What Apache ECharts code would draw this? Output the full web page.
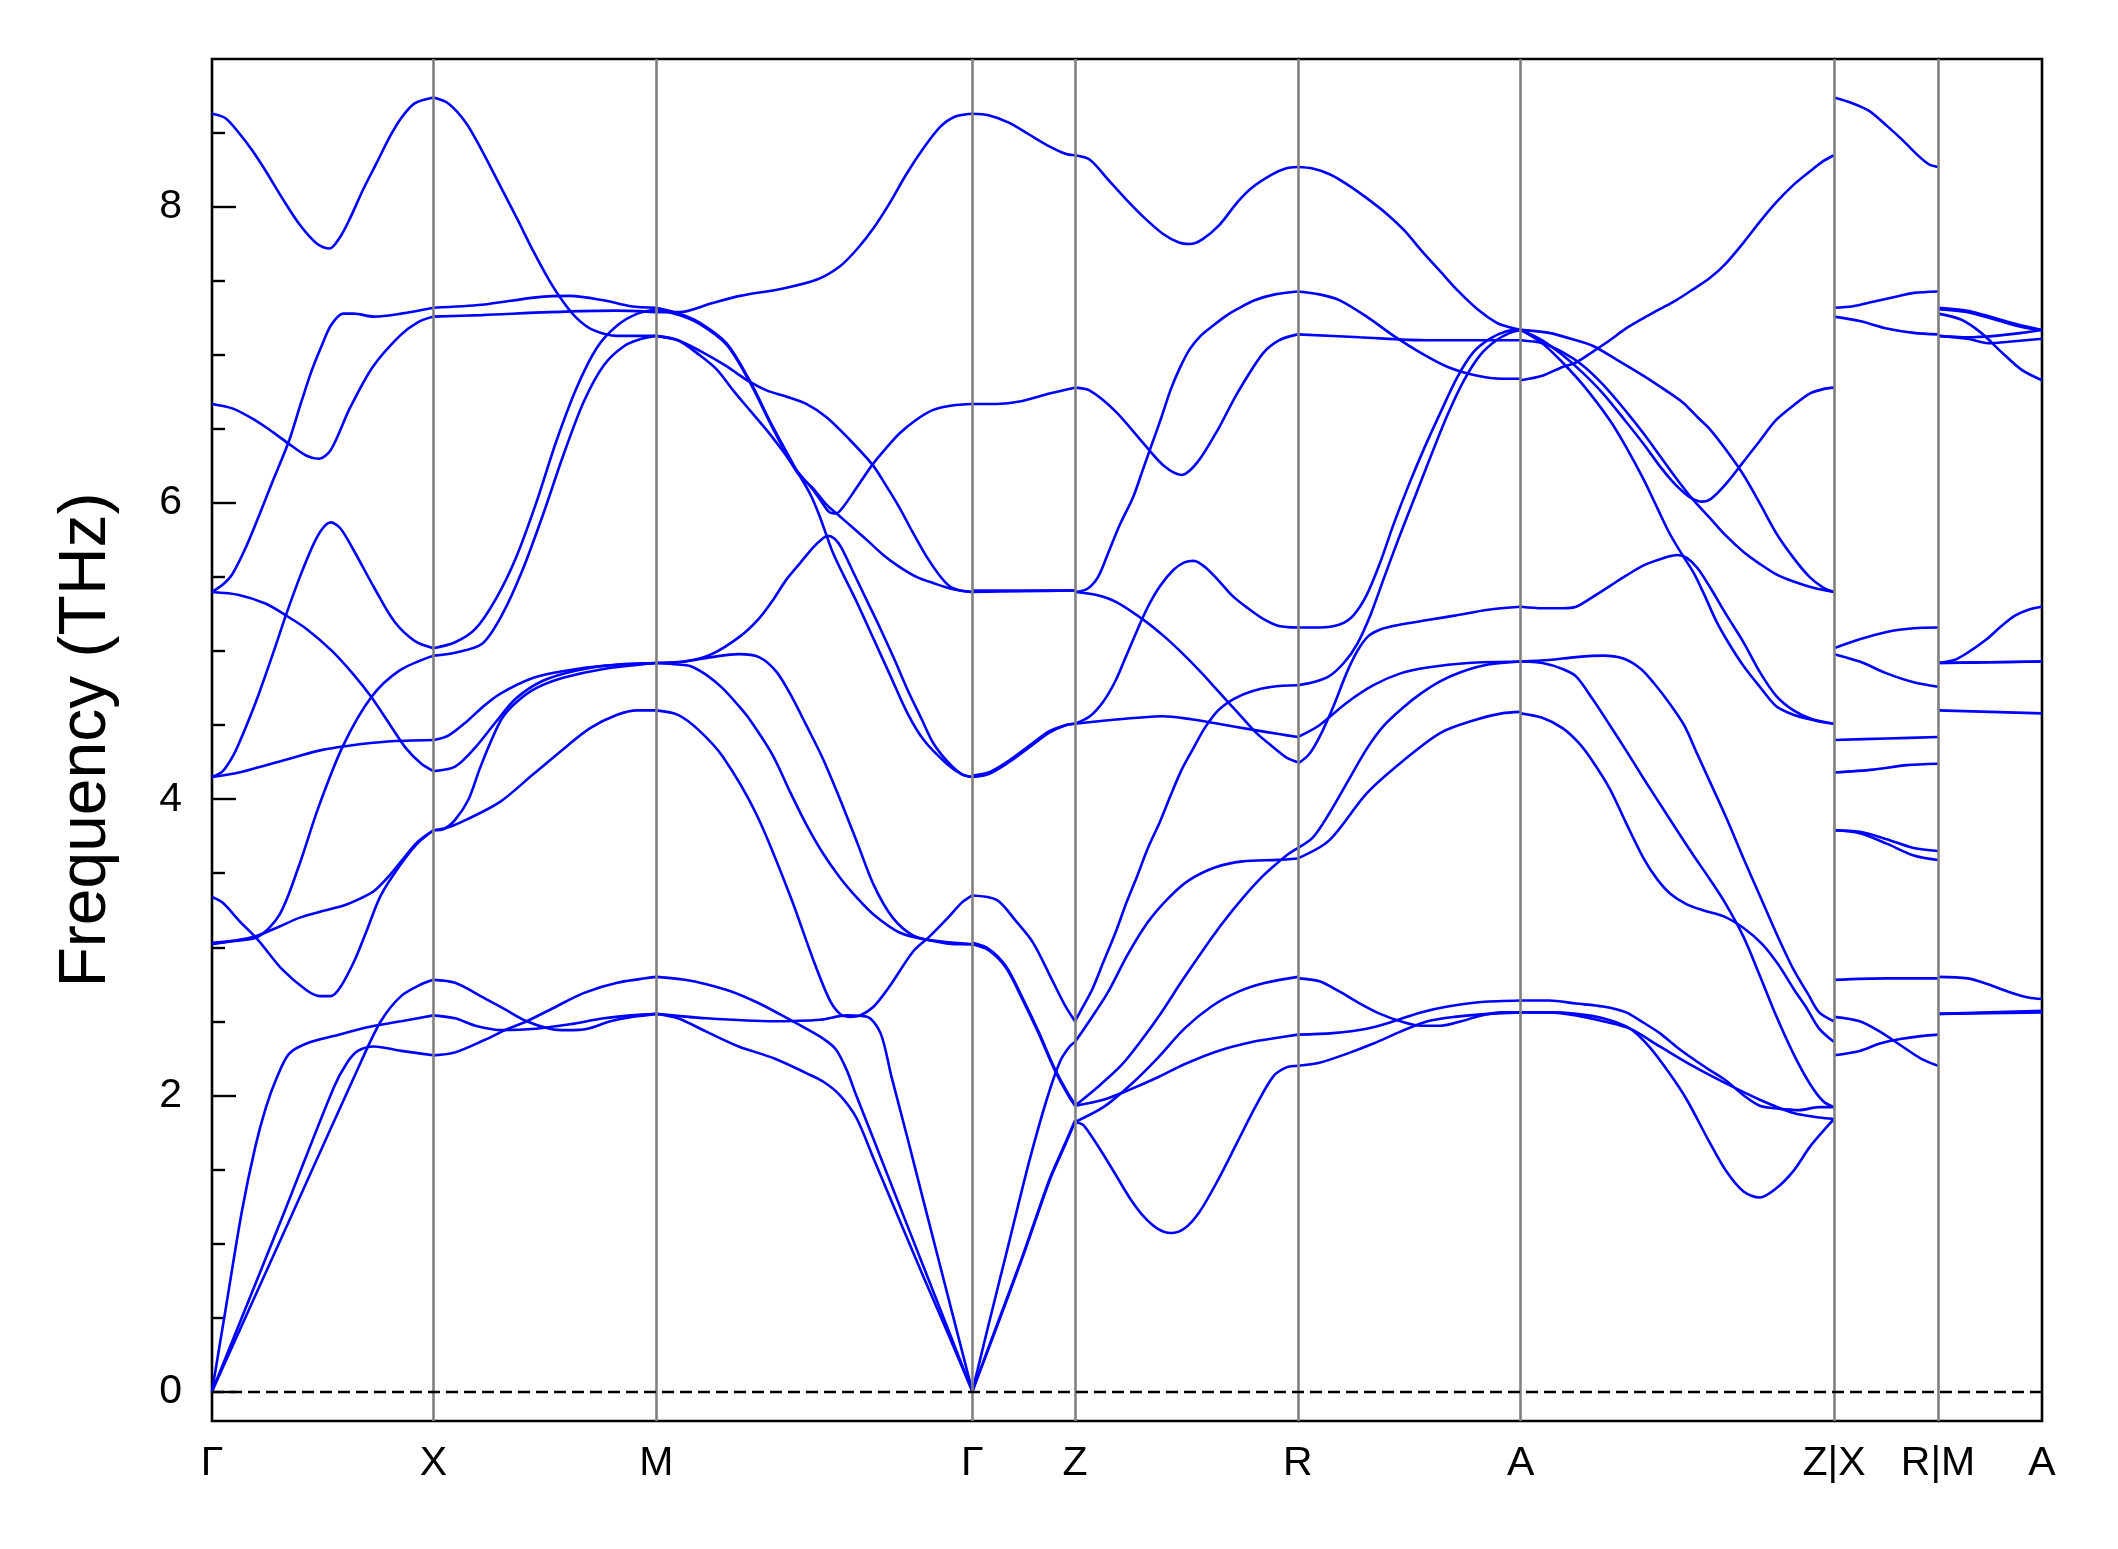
<!DOCTYPE html>
<html>
<head>
<meta charset="utf-8">
<script src="https://cdn.jsdelivr.net/npm/echarts@6/dist/echarts.min.js"></script>
<style>
html,body{margin:0;padding:0;background:#fff;}
#chart{width:2118px;height:1549px;}
</style>
</head>
<body>
<div id="chart"></div>
<script>
// high-symmetry path (distance along path, arbitrary units) and labels
const kTicks = [0, 164, 329, 563, 639, 804, 969, 1201, 1278, 1355];
const kLabels = ['Γ', 'X', 'M', 'Γ', 'Z', 'R', 'A', 'Z|X', 'R|M', 'A'];
const freqMajor = [0, 2, 4, 6, 8];
const freqMinor = [0.5, 1, 1.5, 2.5, 3, 3.5, 4.5, 5, 5.5, 6.5, 7, 7.5, 8.5];

// phonon bands per path segment: [distance, frequency THz]
const bandsGX = [
 [[0,0],[50,1.13],[90,2.05],[100,2.22],[108,2.3],[120,2.33],[140,2.3],[164,2.27]],
 [[0,0],[10,0.55],[22,1.21],[32,1.65],[40,1.92],[48,2.12],[57,2.28],[70,2.35],[90,2.4],[115,2.46],[140,2.5],[164,2.54]],
 [[0,0],[60,1.21],[110,2.22],[125,2.5],[140,2.67],[155,2.75],[164,2.78]],
 [[0,3.34],[8,3.3],[20,3.18],[34,3.05],[52,2.85],[70,2.71],[80,2.67],[88,2.67],[95,2.73],[105,2.9],[114,3.1],[125,3.35],[139,3.55],[152,3.7],[164,3.79]],
 [[0,3.02],[15,3.04],[34,3.07],[50,3.22],[64,3.54],[79,3.95],[97,4.36],[118,4.69],[139,4.87],[164,4.97]],
 [[0,3.03],[20,3.05],[34,3.08],[50,3.14],[65,3.2],[80,3.24],[97,3.28],[110,3.33],[120,3.38],[130,3.47],[140,3.58],[152,3.71],[164,3.79]],
 [[0,4.15],[20,4.18],[40,4.23],[60,4.28],[80,4.33],[100,4.36],[130,4.39],[164,4.40]],
 [[0,4.15],[8,4.19],[16,4.3],[22,4.42],[33,4.67],[45,4.98],[55,5.25],[65,5.5],[75,5.72],[82,5.83],[88,5.87],[95,5.83],[105,5.68],[120,5.43],[135,5.2],[150,5.07],[164,5.02]],
 [[0,5.40],[20,5.38],[40,5.32],[55,5.24],[70,5.15],[89,5.0],[105,4.84],[118,4.69],[132,4.5],[144,4.34],[155,4.24],[164,4.19]],
 [[0,5.40],[8,5.45],[15,5.52],[25,5.7],[35,5.92],[45,6.15],[57,6.42],[66,6.68],[74,6.9],[82,7.08],[88,7.2],[97,7.28],[105,7.28],[120,7.26],[140,7.28],[164,7.32]],
 [[0,6.67],[15,6.64],[30,6.57],[45,6.48],[57,6.4],[70,6.32],[79,6.3],[88,6.36],[102,6.64],[119,6.92],[139,7.13],[152,7.22],[164,7.26]],
 [[0,8.63],[10,8.6],[20,8.5],[30,8.38],[40,8.24],[52,8.06],[65,7.88],[78,7.75],[87,7.72],[95,7.8],[102,7.92],[112,8.12],[122,8.3],[132,8.48],[140,8.6],[150,8.7],[164,8.74]]
];
const bandsXM = [
 [[164,2.27],[180,2.29],[201,2.37],[217,2.44],[233,2.5],[255,2.6],[275,2.69],[300,2.76],[329,2.8]],
 [[164,2.78],[180,2.76],[201,2.66],[217,2.58],[233,2.5],[250,2.45],[263,2.44],[278,2.45],[295,2.5],[312,2.53],[329,2.55]],
 [[164,2.54],[180,2.52],[195,2.47],[215,2.44],[240,2.45],[265,2.48],[290,2.52],[310,2.54],[329,2.55]],
 [[164,3.79],[175,3.81],[188,3.86],[213,3.98],[238,4.17],[263,4.36],[280,4.48],[300,4.57],[315,4.6],[329,4.6]],
 [[164,4.40],[175,4.43],[188,4.52],[200,4.62],[213,4.71],[238,4.82],[263,4.87],[288,4.9],[329,4.92]],
 [[164,3.79],[172,3.8],[180,3.86],[190,4.0],[198,4.2],[206,4.38],[215,4.55],[226,4.66],[240,4.75],[260,4.82],[290,4.88],[329,4.92]],
 [[164,4.19],[180,4.22],[195,4.35],[210,4.52],[225,4.68],[245,4.8],[270,4.87],[300,4.91],[329,4.92]],
 [[164,5.02],[180,5.06],[195,5.15],[210,5.35],[225,5.63],[240,6.0],[255,6.42],[270,6.78],[285,7.05],[300,7.2],[315,7.28],[329,7.31]],
 [[164,4.97],[180,4.99],[200,5.05],[215,5.25],[230,5.55],[245,5.92],[260,6.32],[275,6.68],[290,6.93],[305,7.06],[318,7.11],[329,7.13]],
 [[164,7.32],[200,7.34],[240,7.39],[265,7.4],[290,7.37],[310,7.33],[329,7.32]],
 [[164,7.26],[200,7.27],[250,7.29],[300,7.3],[329,7.29]],
 [[164,8.74],[175,8.7],[188,8.57],[200,8.38],[213,8.15],[226,7.92],[238,7.7],[250,7.5],[260,7.36],[270,7.25],[282,7.17],[300,7.13],[329,7.13]]
];
const bandsMG = [
 [[329,7.29],[346,7.29],[370,7.35],[391,7.4],[423,7.45],[448,7.51],[465,7.6],[478,7.72],[490,7.86],[502,8.03],[514,8.22],[527,8.4],[539,8.54],[550,8.61],[563,8.63]],
 [[329,7.32],[346,7.28],[361,7.22],[381,7.08],[398,6.83],[415,6.52],[433,6.22],[443,6.06],[450,5.91],[460,5.66],[477,5.34],[490,5.08],[502,4.84],[515,4.58],[527,4.4],[544,4.24],[555,4.17],[563,4.15]],
 [[329,7.31],[346,7.27],[361,7.21],[381,7.07],[398,6.82],[415,6.51],[433,6.21],[445,6.1],[455,5.99],[465,5.91],[475,5.83],[485,5.75],[497,5.65],[509,5.57],[522,5.5],[534,5.46],[548,5.42],[563,5.40]],
 [[329,7.13],[345,7.1],[361,7.03],[380,6.93],[398,6.82],[411,6.76],[425,6.72],[440,6.67],[455,6.58],[472,6.43],[489,6.26],[499,6.12],[509,5.97],[519,5.8],[529,5.64],[538,5.52],[546,5.44],[554,5.41],[563,5.40]],
 [[329,7.13],[345,7.1],[361,7.0],[374,6.9],[386,6.76],[398,6.63],[411,6.49],[422,6.36],[433,6.22],[445,6.09],[452,6.0],[457,5.94],[462,5.93],[467,5.97],[477,6.1],[489,6.26],[499,6.37],[509,6.47],[521,6.56],[534,6.63],[548,6.66],[563,6.67]],
 [[329,4.92],[350,4.93],[370,4.98],[391,5.1],[405,5.22],[415,5.34],[425,5.48],[435,5.59],[445,5.7],[452,5.76],[456,5.78],[461,5.76],[466,5.7],[475,5.53],[485,5.34],[495,5.15],[505,4.95],[515,4.74],[525,4.55],[534,4.38],[545,4.25],[555,4.17],[563,4.15]],
 [[329,4.92],[345,4.91],[354,4.9],[366,4.84],[378,4.75],[390,4.63],[398,4.54],[415,4.3],[428,4.05],[440,3.83],[452,3.64],[465,3.47],[478,3.33],[490,3.22],[509,3.1],[530,3.05],[563,3.02]],
 [[329,4.92],[350,4.93],[370,4.96],[390,4.98],[405,4.96],[418,4.86],[430,4.68],[440,4.5],[452,4.28],[465,4.0],[478,3.7],[490,3.42],[504,3.2],[519,3.08],[535,3.04],[550,3.02],[563,3.02]],
 [[329,4.6],[345,4.57],[360,4.47],[378,4.29],[403,3.9],[428,3.35],[445,2.92],[457,2.65],[465,2.55],[472,2.53],[480,2.54],[490,2.6],[502,2.74],[519,2.97],[531,3.07],[545,3.2],[555,3.3],[563,3.35]],
 [[329,2.8],[350,2.78],[366,2.75],[385,2.7],[403,2.63],[420,2.55],[436,2.47],[453,2.38],[462,2.31],[470,2.17],[477,2.0],[490,1.7],[514,1.14],[539,0.56],[563,0]],
 [[329,2.55],[345,2.52],[366,2.43],[390,2.33],[416,2.25],[440,2.15],[453,2.09],[465,2.0],[477,1.85],[490,1.57],[502,1.31],[527,0.77],[545,0.39],[563,0]],
 [[329,2.55],[366,2.52],[416,2.5],[450,2.51],[470,2.54],[485,2.53],[495,2.42],[503,2.13],[515,1.71],[527,1.28],[545,0.64],[563,0]]
];
const bandsGZ = [
 [[563,0],[575,0.45],[590,1.0],[605,1.55],[618,1.97],[628,2.23],[635,2.33],[639,2.36]],
 [[563,0],[580,0.41],[600,0.9],[620,1.42],[630,1.63],[639,1.82]],
 [[563,0],[580,0.42],[600,0.91],[620,1.43],[630,1.64],[639,1.83]],
 [[563,3.02],[575,2.98],[588,2.86],[600,2.65],[612,2.42],[624,2.17],[634,2.0],[639,1.93]],
 [[563,3.03],[575,2.99],[588,2.87],[600,2.66],[612,2.43],[624,2.18],[634,2.01],[639,1.94]],
 [[563,3.35],[581,3.32],[595,3.18],[608,3.03],[622,2.78],[632,2.6],[639,2.5]],
 [[563,4.15],[575,4.17],[590,4.25],[605,4.35],[620,4.45],[632,4.5],[639,4.51]],
 [[563,4.16],[575,4.18],[590,4.26],[605,4.36],[620,4.46],[632,4.5],[639,4.51]],
 [[563,5.40],[600,5.405],[639,5.41]],
 [[563,5.41],[600,5.41],[639,5.41]],
 [[563,6.67],[580,6.67],[600,6.69],[620,6.74],[639,6.78]],
 [[563,8.63],[575,8.62],[590,8.57],[605,8.49],[620,8.41],[632,8.36],[639,8.35]]
];
const bandsZR = [
 [[639,8.35],[650,8.32],[664,8.18],[677,8.05],[690,7.93],[704,7.82],[716,7.76],[724,7.75],[733,7.78],[746,7.88],[759,8.03],[770,8.13],[785,8.22],[795,8.26],[804,8.27]],
 [[639,6.78],[650,6.76],[669,6.62],[690,6.4],[705,6.25],[718,6.19],[730,6.28],[745,6.5],[759,6.74],[778,7.01],[790,7.1],[804,7.14]],
 [[639,5.4],[648,5.42],[656,5.5],[663,5.65],[672,5.85],[682,6.04],[689,6.22],[696,6.4],[703,6.58],[710,6.77],[717,6.92],[724,7.04],[732,7.13],[740,7.19],[750,7.26],[759,7.31],[772,7.37],[787,7.41],[804,7.43]],
 [[639,5.4],[655,5.38],[670,5.33],[690,5.21],[705,5.1],[718,4.99],[732,4.86],[745,4.73],[759,4.59],[773,4.45],[786,4.35],[796,4.28],[804,4.25]],
 [[639,4.51],[650,4.56],[660,4.66],[669,4.8],[677,4.97],[685,5.14],[693,5.3],[702,5.44],[712,5.55],[720,5.6],[727,5.61],[735,5.57],[745,5.48],[756,5.37],[767,5.29],[778,5.22],[790,5.17],[804,5.16]],
 [[639,4.51],[660,4.53],[685,4.55],[704,4.56],[725,4.54],[745,4.51],[770,4.47],[790,4.44],[804,4.42]],
 [[639,2.5],[645,2.6],[652,2.72],[660,2.9],[669,3.1],[677,3.3],[685,3.48],[693,3.67],[702,3.85],[710,4.03],[718,4.2],[727,4.35],[735,4.48],[745,4.6],[757,4.68],[770,4.73],[785,4.76],[804,4.77]],
 [[639,2.36],[648,2.48],[663,2.69],[678,2.95],[693,3.17],[708,3.33],[723,3.45],[743,3.54],[763,3.58],[789,3.59],[804,3.6]],
 [[639,1.93],[655,2.05],[673,2.2],[688,2.37],[703,2.56],[718,2.77],[733,2.97],[748,3.16],[763,3.33],[778,3.48],[789,3.57],[797,3.63],[804,3.67]],
 [[639,1.82],[645,1.8],[650,1.74],[660,1.6],[670,1.45],[680,1.3],[690,1.18],[700,1.1],[710,1.07],[720,1.1],[731,1.21],[745,1.43],[759,1.68],[773,1.93],[786,2.13],[796,2.19],[804,2.2]],
 [[639,1.93],[660,1.97],[680,2.04],[700,2.12],[720,2.21],[745,2.3],[770,2.36],[790,2.39],[804,2.41]],
 [[639,1.82],[660,1.92],[680,2.07],[700,2.25],[720,2.45],[740,2.6],[760,2.7],[780,2.76],[804,2.8]]
];
const bandsRA = [
 [[804,8.27],[815,8.26],[828,8.22],[841,8.15],[855,8.06],[869,7.96],[883,7.84],[896,7.7],[910,7.56],[923,7.43],[937,7.31],[951,7.22],[960,7.19],[969,7.17]],
 [[804,7.43],[820,7.41],[835,7.37],[855,7.26],[875,7.13],[896,7.01],[915,6.92],[937,6.86],[955,6.84],[969,6.84]],
 [[804,7.14],[850,7.12],[900,7.1],[940,7.1],[969,7.1]],
 [[804,5.16],[820,5.16],[835,5.18],[845,5.24],[855,5.38],[865,5.6],[875,5.86],[886,6.12],[898,6.38],[910,6.62],[922,6.85],[934,7.02],[946,7.11],[958,7.16],[969,7.17]],
 [[804,4.77],[815,4.79],[827,4.83],[838,4.92],[848,5.05],[858,5.25],[868,5.5],[879,5.77],[891,6.05],[903,6.33],[915,6.6],[927,6.83],[939,7.0],[951,7.1],[961,7.15],[969,7.17]],
 [[804,4.24],[812,4.3],[820,4.42],[830,4.62],[840,4.85],[848,5.0],[856,5.1],[866,5.15],[880,5.18],[900,5.21],[920,5.24],[945,5.28],[969,5.30]],
 [[804,4.42],[820,4.5],[840,4.65],[860,4.77],[880,4.85],[900,4.89],[930,4.92],[969,4.93]],
 [[804,3.67],[815,3.74],[827,3.9],[841,4.12],[855,4.34],[868,4.5],[882,4.62],[896,4.72],[910,4.8],[925,4.86],[945,4.91],[969,4.93]],
 [[804,3.6],[827,3.72],[855,4.04],[882,4.26],[910,4.45],[937,4.54],[955,4.58],[969,4.59]],
 [[804,2.79],[820,2.77],[835,2.7],[850,2.62],[865,2.55],[880,2.5],[895,2.47],[910,2.47],[925,2.5],[940,2.54],[955,2.56],[969,2.56]],
 [[804,2.41],[830,2.42],[855,2.45],[875,2.5],[895,2.56],[915,2.6],[940,2.63],[969,2.64]],
 [[804,2.2],[820,2.22],[840,2.28],[860,2.35],[880,2.43],[900,2.5],[920,2.53],[945,2.55],[969,2.56]]
];
const bandsAZ = [
 [[969,6.83],[985,6.86],[1000,6.92],[1010,6.95],[1022,7.02],[1035,7.1],[1047,7.18],[1060,7.25],[1072,7.31],[1084,7.37],[1096,7.44],[1109,7.52],[1121,7.62],[1134,7.76],[1146,7.9],[1158,8.03],[1171,8.15],[1183,8.24],[1193,8.31],[1201,8.35]],
 [[969,7.17],[990,7.15],[1010,7.1],[1023,7.06],[1040,6.97],[1060,6.86],[1075,6.77],[1089,6.68],[1100,6.58],[1109,6.5],[1121,6.36],[1134,6.19],[1146,6.0],[1158,5.8],[1171,5.63],[1183,5.5],[1193,5.43],[1201,5.40]],
 [[969,7.17],[985,7.1],[1000,7.0],[1015,6.88],[1030,6.74],[1047,6.55],[1060,6.4],[1072,6.25],[1082,6.14],[1090,6.07],[1096,6.03],[1103,6.01],[1110,6.03],[1121,6.13],[1134,6.28],[1146,6.42],[1158,6.56],[1171,6.66],[1183,6.74],[1193,6.77],[1201,6.78]],
 [[969,7.1],[985,7.08],[1000,7.02],[1015,6.93],[1030,6.8],[1047,6.62],[1060,6.47],[1072,6.32],[1084,6.17],[1096,6.03],[1109,5.9],[1121,5.78],[1134,5.67],[1146,5.59],[1158,5.52],[1171,5.47],[1185,5.43],[1201,5.40]],
 [[969,7.17],[985,7.08],[1000,6.95],[1015,6.8],[1035,6.56],[1047,6.38],[1060,6.16],[1070,5.97],[1079,5.8],[1088,5.66],[1097,5.53],[1105,5.38],[1114,5.2],[1124,5.04],[1134,4.9],[1146,4.76],[1158,4.63],[1171,4.57],[1183,4.54],[1193,4.52],[1201,4.51]],
 [[969,5.3],[985,5.29],[1000,5.29],[1010,5.3],[1023,5.37],[1035,5.44],[1047,5.51],[1060,5.58],[1075,5.63],[1085,5.65],[1092,5.63],[1100,5.56],[1110,5.42],[1121,5.25],[1134,5.06],[1146,4.86],[1158,4.7],[1171,4.6],[1185,4.54],[1201,4.51]],
 [[969,4.58],[985,4.55],[1000,4.48],[1012,4.38],[1022,4.26],[1035,4.07],[1047,3.84],[1060,3.6],[1070,3.46],[1080,3.36],[1092,3.29],[1104,3.25],[1119,3.21],[1134,3.13],[1148,3.02],[1160,2.88],[1171,2.72],[1180,2.6],[1190,2.45],[1201,2.36]],
 [[969,4.93],[990,4.94],[1010,4.96],[1030,4.97],[1045,4.95],[1058,4.88],[1068,4.78],[1079,4.65],[1090,4.5],[1100,4.3],[1110,4.1],[1121,3.88],[1134,3.6],[1146,3.35],[1158,3.1],[1171,2.85],[1182,2.68],[1190,2.56],[1201,2.5]],
 [[969,4.93],[985,4.92],[1000,4.88],[1010,4.83],[1022,4.68],[1035,4.5],[1047,4.33],[1060,4.14],[1072,3.97],[1084,3.8],[1097,3.62],[1109,3.46],[1121,3.29],[1134,3.07],[1146,2.81],[1158,2.54],[1171,2.28],[1183,2.08],[1193,1.96],[1201,1.92]],
 [[969,2.64],[990,2.64],[1010,2.62],[1030,2.6],[1047,2.56],[1060,2.49],[1072,2.42],[1084,2.33],[1096,2.25],[1109,2.17],[1121,2.1],[1134,2.0],[1146,1.93],[1160,1.91],[1175,1.9],[1190,1.92],[1201,1.92]],
 [[969,2.56],[990,2.56],[1010,2.54],[1030,2.5],[1050,2.45],[1072,2.33],[1096,2.2],[1121,2.08],[1146,1.97],[1171,1.88],[1190,1.85],[1201,1.84]],
 [[969,2.56],[990,2.56],[1010,2.55],[1030,2.52],[1050,2.45],[1064,2.33],[1079,2.15],[1092,1.97],[1109,1.68],[1121,1.49],[1134,1.35],[1146,1.31],[1158,1.37],[1171,1.49],[1183,1.65],[1196,1.79],[1201,1.84]]
];
const bandsXR = [
 [[1201,8.74],[1215,8.7],[1227,8.65],[1240,8.55],[1252,8.45],[1263,8.35],[1271,8.29],[1278,8.27]],
 [[1201,7.32],[1215,7.33],[1230,7.36],[1245,7.39],[1260,7.42],[1278,7.43]],
 [[1201,7.26],[1220,7.23],[1240,7.18],[1260,7.15],[1278,7.14]],
 [[1201,5.02],[1220,5.08],[1240,5.13],[1260,5.155],[1278,5.16]],
 [[1201,4.98],[1220,4.93],[1240,4.85],[1260,4.79],[1278,4.76]],
 [[1201,4.4],[1240,4.41],[1278,4.42]],
 [[1201,4.18],[1230,4.2],[1255,4.23],[1278,4.24]],
 [[1201,3.79],[1220,3.78],[1240,3.73],[1260,3.67],[1278,3.65]],
 [[1201,3.79],[1220,3.77],[1240,3.7],[1260,3.62],[1278,3.59]],
 [[1201,2.78],[1240,2.79],[1278,2.79]],
 [[1201,2.53],[1220,2.5],[1235,2.43],[1250,2.34],[1265,2.25],[1278,2.2]],
 [[1201,2.27],[1220,2.3],[1235,2.35],[1250,2.38],[1265,2.4],[1278,2.41]]
];
const bandsMA = [
 [[1278,7.32],[1300,7.3],[1320,7.25],[1340,7.2],[1355,7.17]],
 [[1278,7.31],[1300,7.29],[1320,7.24],[1340,7.19],[1355,7.17]],
 [[1278,7.28],[1295,7.24],[1310,7.15],[1325,7.02],[1340,6.9],[1355,6.83]],
 [[1278,7.13],[1300,7.11],[1315,7.08],[1330,7.09],[1355,7.11]],
 [[1278,7.13],[1300,7.12],[1320,7.13],[1340,7.15],[1355,7.17]],
 [[1278,4.92],[1290,4.94],[1300,4.99],[1314,5.08],[1325,5.17],[1335,5.24],[1345,5.28],[1355,5.30]],
 [[1278,4.92],[1355,4.93]],
 [[1278,4.92],[1316,4.925],[1355,4.93]],
 [[1278,4.6],[1355,4.58]],
 [[1278,2.8],[1300,2.79],[1315,2.75],[1330,2.7],[1345,2.66],[1355,2.65]],
 [[1278,2.55],[1355,2.56]],
 [[1278,2.55],[1355,2.57]]
];
const allSegments = [bandsGX, bandsXM, bandsMG, bandsGZ, bandsZR, bandsRA, bandsAZ, bandsXR, bandsMA];

const FONT = 'Liberation Sans, Arial, Helvetica, sans-serif';
const chart = echarts.init(document.getElementById('chart'), null, {renderer: 'canvas'});

const series = [];
// vertical high-symmetry lines and zero line
series.push({
  type: 'line', data: [], z: 1, silent: true,
  markLine: {
    silent: true, symbol: ['none', 'none'], label: {show: false},
    animation: false,
    lineStyle: {color: '#808080', width: 2.6, type: 'solid'},
    data: kTicks.slice(1, -1).map(v => ({xAxis: v}))
  }
});
series.push({
  type: 'line', data: [], z: 2, silent: true,
  markLine: {
    silent: true, symbol: ['none', 'none'], label: {show: false},
    animation: false,
    lineStyle: {color: '#000', width: 2.4, type: [12, 6]},
    data: [{yAxis: 0}]
  }
});
allSegments.forEach(seg => {
  seg.forEach(band => {
    series.push({
      type: 'line', data: band, z: 3, silent: true,
      showSymbol: false, symbol: 'none',
      smooth: 0.3,
      lineStyle: {color: '#0000ff', width: 2.6},
      animation: false
    });
  });
});

chart.setOption({
  animation: false,
  backgroundColor: '#fff',
  grid: {left: 212, right: 76, top: 59, bottom: 128, show: true,
         borderColor: '#000', borderWidth: 2.6, backgroundColor: 'transparent'},
  xAxis: {
    type: 'value', min: 0, max: 1355,
    axisLine: {show: false}, splitLine: {show: false},
    axisTick: {show: false},
    axisLabel: {
      customValues: kTicks, color: '#000', fontSize: 41, fontFamily: FONT, margin: 22,
      formatter: v => { const i = kTicks.indexOf(v); return i >= 0 ? kLabels[i] : ''; }
    }
  },
  yAxis: [{
    type: 'value', min: -0.2, max: 9.0, position: 'left',
    axisLine: {show: false}, splitLine: {show: false},
    axisTick: {show: true, inside: true, length: 24, customValues: freqMajor,
               lineStyle: {color: '#000', width: 2.4}},
    axisLabel: {customValues: freqMajor, color: '#000', fontSize: 41, fontFamily: FONT, margin: 30},
    name: 'Frequency (THz)', nameLocation: 'middle', nameGap: 92,
    nameTextStyle: {fontSize: 66, color: '#000', fontFamily: FONT}
  }, {
    type: 'value', min: -0.2, max: 9.0, position: 'left', offset: 0,
    axisLine: {show: false}, splitLine: {show: false},
    axisTick: {show: true, inside: true, length: 13, customValues: freqMinor,
               lineStyle: {color: '#000', width: 2.4}},
    axisLabel: {show: false}
  }],
  series: series
});
</script>
</body>
</html>
